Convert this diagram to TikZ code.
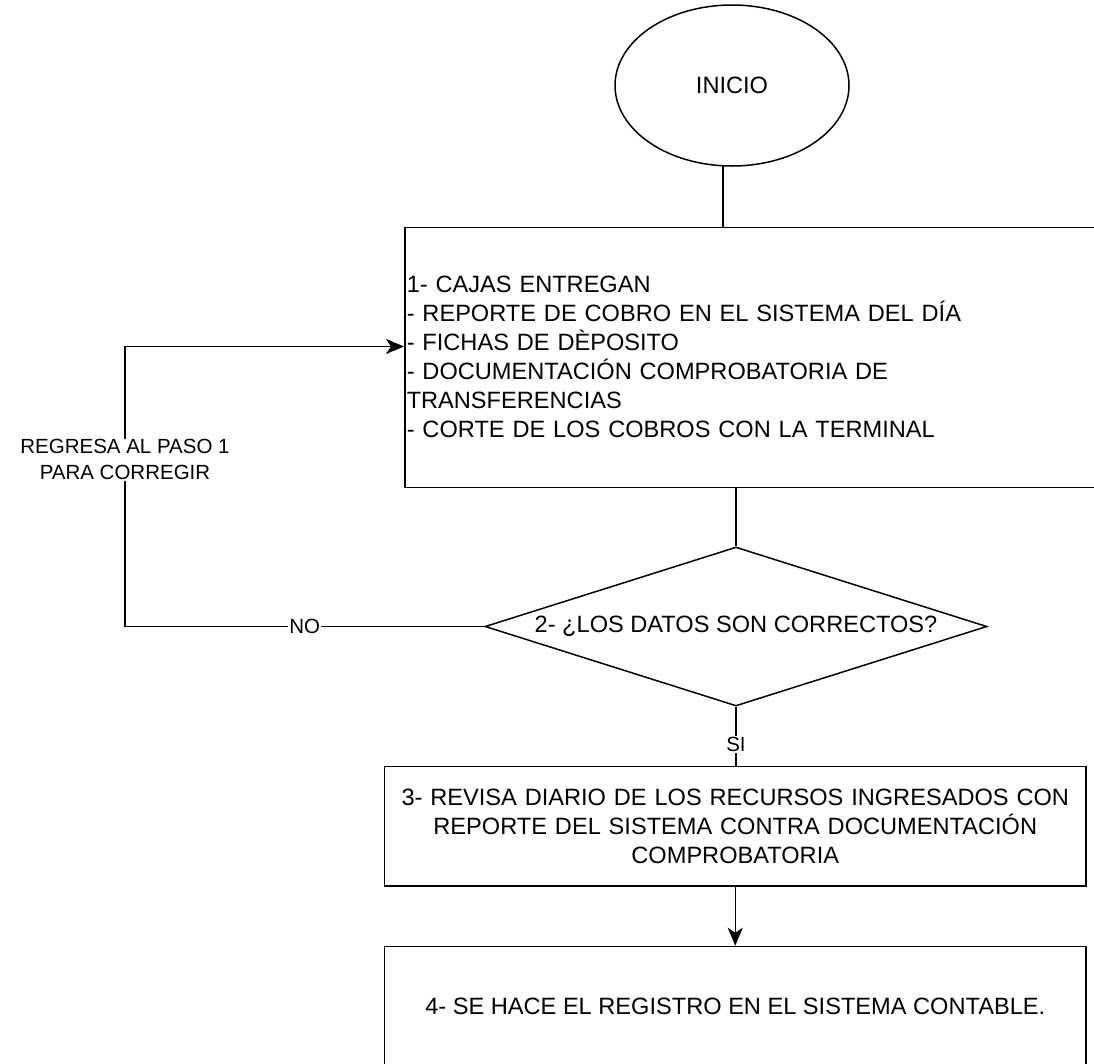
\documentclass[tikz,border=0pt]{standalone}
\usepackage{fontspec}
\setmainfont{Liberation Sans}
\usetikzlibrary{shapes.geometric,arrows.meta}
\begin{document}
\begin{tikzpicture}[x=1pt,y=-1pt,
  every node/.style={font=\fontsize{23.6}{29}\selectfont, text=black},
  line/.style={line width=1.5pt, draw=black},
  box/.style={draw=black, line width=1.5pt, rectangle, inner sep=0pt, align=center},
  lbl/.style={fill=white, font=\fontsize{20.5}{26}\selectfont, inner sep=1pt, align=center},
  arr/.style={-{Stealth[length=18pt,width=15pt,inset=5pt]}}]
\useasboundingbox (0,0) rectangle (1094,1063);
\clip (0,0) rectangle (1094,1063);

\node[ellipse, draw=black, line width=1.5pt, minimum width=234, minimum height=161, inner sep=0pt] (inicio) at (732,85.5) {INICIO};

\node[box, minimum width=696, minimum height=260, text width=692, align=left, anchor=north west] (b1) at (404,226.5)
  {1- CAJAS ENTREGAN\\- REPORTE DE COBRO EN EL SISTEMA DEL DÍA\\- FICHAS DE DÈPOSITO\\- DOCUMENTACIÓN COMPROBATORIA DE\\TRANSFERENCIAS\\- CORTE DE LOS COBROS CON LA TERMINAL};

\node[diamond, draw=black, line width=1.5pt, aspect=3.16, minimum width=502, minimum height=159, inner sep=0pt] (dia) at (736,626.5) {2- ¿LOS DATOS SON CORRECTOS?};

\node[box, minimum width=701.5, minimum height=119.5, text width=700] (b3) at (735.25,826.25)
  {3- REVISA DIARIO DE LOS RECURSOS INGRESADOS CON\\REPORTE DEL SISTEMA CONTRA DOCUMENTACIÓN\\COMPROBATORIA};

\node[box, minimum width=701.5, minimum height=119] (b4) at (735.25,1006) {4- SE HACE EL REGISTRO EN EL SISTEMA CONTABLE.};

\coordinate (s0) at (723,166);
\coordinate (cornerA) at (125,626.5);
\coordinate (cornerB) at (125,346.5);

\draw[line] (s0) -- (s0 |- b1.north);
\draw[line] (b1.south -| dia.north) -- (dia.north);
\draw[line,arr] (dia.west) -- node[lbl, pos=0.5]{NO} (cornerA) -- node[lbl, pos=0.595]{REGRESA AL PASO 1\\PARA CORREGIR} (cornerB) -- (cornerB -| b1.west);
\draw[line] (dia.south) -- node[lbl, pos=0.64]{SI} (dia.south |- b3.north);
\draw[line,arr] (b3.south) -- (b4.north);
\end{tikzpicture}
\end{document}
